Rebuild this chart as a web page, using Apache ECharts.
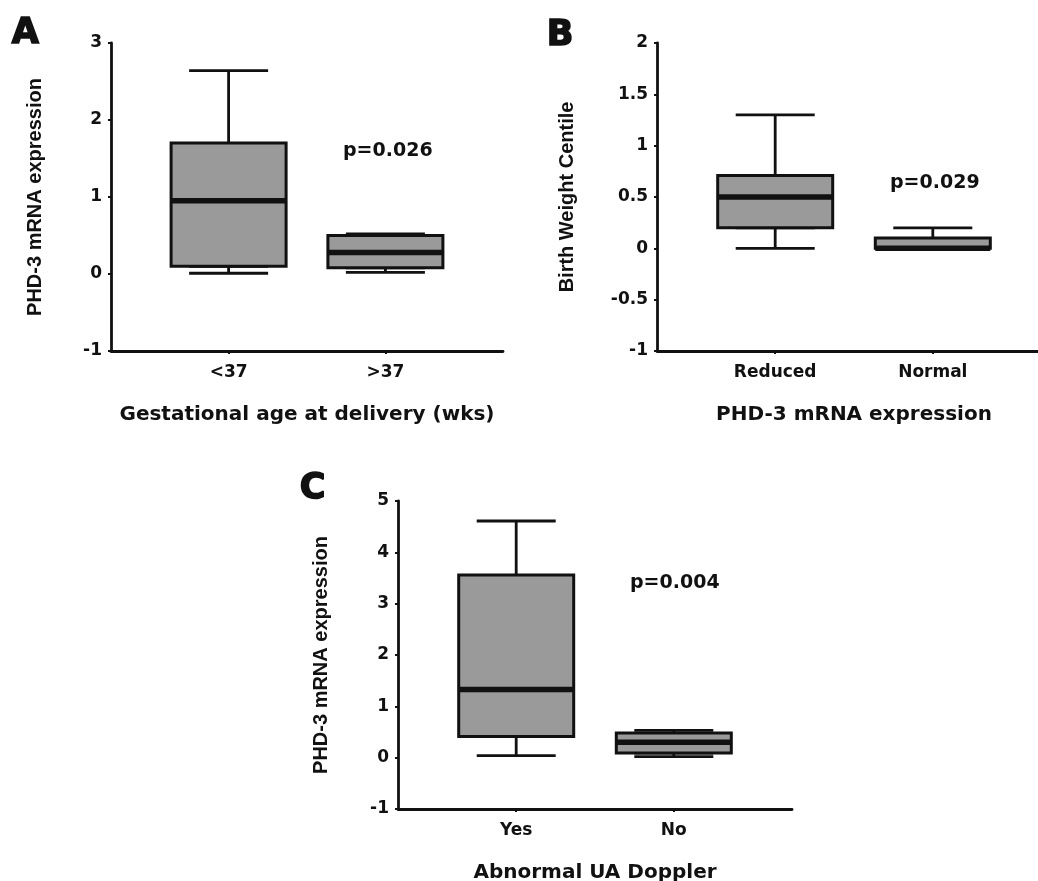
<!DOCTYPE html>
<html>
<head>
<meta charset="utf-8">
<title>PHD-3 box plots</title>
<script src="https://cdn.jsdelivr.net/npm/echarts@6/dist/echarts.min.js"></script>
<style>
  html, body { margin: 0; padding: 0; background: #fff; }
  #chart { width: 1038px; height: 881px; }
</style>
</head>
<body>
<div id="chart"></div>
<script>
// box stats: [min, Q1, median, Q3, max]
const catsA = ['<37', '>37'];
const statsA = [
  [0.01, 0.10, 0.95, 1.70, 2.64],
  [0.02, 0.08, 0.28, 0.50, 0.52]
];
const catsB = ['Reduced', 'Normal'];
const statsB = [
  [0.00, 0.20, 0.50, 0.71, 1.30],
  [0.00, 0.00, 0.00, 0.10, 0.20]
];
const catsC = ['Yes', 'No'];
const statsC = [
  [0.04, 0.41, 1.33, 3.56, 4.61],
  [0.02, 0.09, 0.30, 0.48, 0.53]
];
const pValues = ['p=0.026', 'p=0.029', 'p=0.004'];

const INK = '#111';
const FILL = '#9a9a9a';
const tickFont = { fontFamily: 'DejaVu Sans', fontWeight: 'bold', fontSize: 17, color: '#111' };

// two groups sit in slots 1 and 3 of five, matching the Prism spacing
function pad(arr) { return ['-', arr[0], '-', arr[1], '-']; }
function padCats(c) { return ['', c[0], '', c[1], '']; }

const panels = [
  { cats: catsA, stats: statsA, grid: { left: 111, top: 43, width: 392, height: 308 },
    min: -1, max: 3, step: 1, xName: 'Gestational age at delivery (wks)', yName: 'PHD-3 mRNA expression', yGap: 66 },
  { cats: catsB, stats: statsB, grid: { left: 657, top: 43, width: 394, height: 308 },
    min: -1, max: 2, step: 0.5, xName: 'PHD-3 mRNA expression', yName: 'Birth Weight Centile', yGap: 80 },
  { cats: catsC, stats: statsC, grid: { left: 398, top: 501, width: 394, height: 308 },
    min: -1, max: 5, step: 1, xName: 'Abnormal UA Doppler', yName: 'PHD-3 mRNA expression', yGap: 67 }
];

const grid = [], xAxis = [], yAxis = [], series = [];

panels.forEach((p, g) => {
  grid.push(Object.assign({ outerBoundsMode: 'none', containLabel: false }, p.grid));
  yAxis.push({
    type: 'value', gridIndex: g, min: p.min, max: p.max, interval: p.step,
    axisLine: { show: true, lineStyle: { color: INK, width: 2.8 } },
    axisTick: { show: true, length: 3, lineStyle: { color: INK, width: 2 } },
    splitLine: { show: false },
    axisLabel: Object.assign({ margin: 9 }, tickFont),
    name: p.yName, nameLocation: 'middle', nameGap: p.yGap,
    nameTextStyle: { fontFamily: 'Liberation Sans', fontWeight: 'bold', fontSize: 20, color: '#111' }
  });
  for (let k = 0; k < 3; k++) {
    const ax = {
      type: 'category', gridIndex: g, data: padCats(p.cats), boundaryGap: true,
      show: k === 0
    };
    if (k === 0) {
      Object.assign(ax, {
        axisLine: { onZero: false, lineStyle: { color: INK, width: 2.8 } },
        axisTick: { show: true, alignWithLabel: true, length: 3,
          interval: (i, v) => v !== '', lineStyle: { color: INK, width: 2 } },
        axisLabel: Object.assign({ interval: 0, margin: 13 }, tickFont),
        name: p.xName, nameLocation: 'middle', nameGap: 54,
        nameTextStyle: { fontFamily: 'DejaVu Sans', fontWeight: 'bold', fontSize: 20, color: '#111' }
      });
    } else {
      ax.axisLine = { onZero: false };
    }
    xAxis.push(ax);
  }
  const common = { type: 'boxplot', yAxisIndex: g, silent: true, animation: false, emphasis: { disabled: true } };
  // whiskers with narrower caps
  series.push(Object.assign({}, common, {
    xAxisIndex: 3 * g, boxWidth: [79, 79],
    itemStyle: { color: FILL, borderColor: INK, borderWidth: 2.8 },
    data: pad(p.stats.map(s => [s[0], s[1], s[1], s[1], s[4]]))
  }));
  // the box Q1..Q3
  series.push(Object.assign({}, common, {
    xAxisIndex: 3 * g + 1, boxWidth: [115, 115],
    itemStyle: { color: FILL, borderColor: INK, borderWidth: 3 },
    data: pad(p.stats.map(s => [s[1], s[1], s[2], s[3], s[3]]))
  }));
  // thick median bar
  series.push(Object.assign({}, common, {
    xAxisIndex: 3 * g + 2, boxWidth: [115, 115],
    itemStyle: { color: INK, borderColor: INK, borderWidth: 5.5, borderJoin: 'bevel' },
    data: pad(p.stats.map(s => [s[2], s[2], s[2], s[2], s[2]]))
  }));
});

const letterStyle = { fontFamily: 'DejaVu Sans', fontWeight: 'bold', fontSize: 35, fill: '#111',
  stroke: '#111', lineWidth: 1.6, textVerticalAlign: 'middle' };
const pStyle = { fontFamily: 'DejaVu Sans', fontWeight: 'bold', fontSize: 19, fill: '#111', textVerticalAlign: 'middle' };

const option = {
  backgroundColor: '#fff',
  animation: false,
  grid: grid,
  xAxis: xAxis,
  yAxis: yAxis,
  series: series,
  graphic: [
    { type: 'text', left: 11, top: 16, style: Object.assign({ text: 'A' }, letterStyle) },
    { type: 'text', left: 546, top: 18, style: Object.assign({ text: 'B' }, letterStyle) },
    { type: 'text', left: 299, top: 471, style: Object.assign({ text: 'C' }, letterStyle) },
    { type: 'text', left: 343, top: 142, style: Object.assign({ text: pValues[0] }, pStyle) },
    { type: 'text', left: 890, top: 174, style: Object.assign({ text: pValues[1] }, pStyle) },
    { type: 'text', left: 630, top: 574, style: Object.assign({ text: pValues[2] }, pStyle) }
  ]
};

const myChart = echarts.init(document.getElementById('chart'));
myChart.setOption(option);
</script>
</body>
</html>
